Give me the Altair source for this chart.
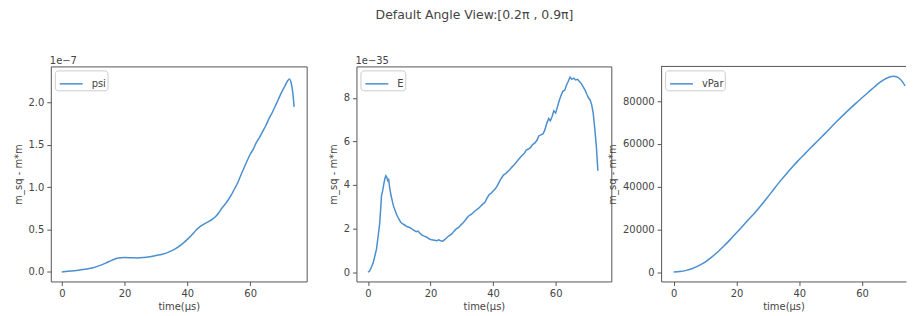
import altair as alt
import pandas as pd

# ---------------- data ----------------
chart_title = "Default Angle View:[0.2π , 0.9π]"
x_title = "time(µs)"
y_title = "m_sq - m*m"
x_ticks = [0, 20, 40, 60]

# psi, in units of 1e-7
psi_t = [0, 2, 4, 6, 8, 10, 12, 14, 16, 18, 20, 22, 24, 26, 28, 30, 32, 34, 36, 38,
         40, 42, 43, 44, 45, 46, 47, 48, 49, 50, 51, 52, 53, 54, 55, 56, 57, 58, 59,
         60, 61, 62, 63, 64, 65, 66, 67, 68, 69, 70, 71, 72, 72.5, 73, 73.5, 74]
psi_v = [0.0, 0.01, 0.015, 0.025, 0.035, 0.05, 0.075, 0.105, 0.14, 0.165, 0.17, 0.168,
         0.165, 0.17, 0.18, 0.195, 0.21, 0.235, 0.27, 0.32, 0.385, 0.46, 0.505, 0.535,
         0.56, 0.58, 0.6, 0.625, 0.655, 0.7, 0.755, 0.8, 0.85, 0.91, 0.98, 1.05, 1.14,
         1.225, 1.31, 1.39, 1.45, 1.53, 1.59, 1.66, 1.73, 1.81, 1.88, 1.96, 2.04, 2.12,
         2.19, 2.26, 2.28, 2.24, 2.14, 1.95]
psi_ticks = [0.0, 0.5, 1.0, 1.5, 2.0]

# E, in units of 1e-35
E_t = [0, 0.5, 1.0, 1.6, 2.2, 2.7, 3.2, 3.7, 4.0, 4.3, 4.7, 5.0, 5.4, 5.7, 6.0, 6.3,
       6.6, 6.9, 7.3, 7.7, 8.1, 8.6, 9.2, 9.8, 10.4, 11.0, 11.8, 12.6, 13.3, 14.0,
       14.7, 15.4, 16.0, 16.6, 17.3, 18.0, 18.8, 19.6, 20.4, 21.2, 22.0, 22.6, 23.2,
       23.9, 24.6, 25.3, 26.0, 26.8, 27.5, 28.2, 29.0, 29.8, 30.5, 31.2, 32.0, 32.6,
       33.3, 34.0, 34.6, 35.3, 36.0, 36.7, 37.4, 38.0, 38.7, 39.4, 40.0, 40.7, 41.4,
       42.0, 42.7, 43.3, 44.0, 44.7, 45.3, 46.0, 46.6, 47.3, 48.0, 48.6, 49.3, 50.0,
       50.6, 51.3, 52.0, 52.6, 53.3, 54.0, 54.6, 55.3, 56.0, 56.6, 57.2, 57.8, 58.3,
       58.9, 59.4, 60.0, 60.5, 61.1, 61.7, 62.3, 62.9, 63.5, 64.0, 64.6, 65.2, 65.8,
       66.4, 67.0, 67.6, 68.2, 68.8, 69.4, 70.0, 70.5, 71.0, 71.5, 72.0, 72.5, 73.0, 73.5]
E_v = [0.0, 0.05, 0.2, 0.4, 0.75, 1.05, 1.6, 2.2, 2.8, 3.5, 3.75, 4.0, 4.3, 4.42, 4.35,
       4.2, 4.25, 3.9, 3.55, 3.3, 3.05, 2.85, 2.62, 2.45, 2.3, 2.22, 2.15, 2.08, 2.05,
       1.98, 1.92, 1.85, 1.88, 1.78, 1.7, 1.65, 1.6, 1.52, 1.48, 1.46, 1.44, 1.48, 1.44,
       1.42, 1.5, 1.6, 1.67, 1.75, 1.88, 1.98, 2.05, 2.18, 2.28, 2.4, 2.55, 2.62, 2.68,
       2.78, 2.85, 2.92, 3.02, 3.12, 3.2, 3.38, 3.55, 3.62, 3.72, 3.82, 3.98, 4.15, 4.32,
       4.45, 4.52, 4.62, 4.7, 4.82, 4.9, 5.02, 5.15, 5.25, 5.36, 5.45, 5.6, 5.65, 5.72,
       5.85, 5.92, 6.05, 6.25, 6.3, 6.35, 6.55, 6.85, 7.05, 6.95, 7.15, 7.4, 7.3, 7.55,
       7.85, 8.1, 8.3, 8.35, 8.6, 8.75, 8.95, 8.85, 8.9, 8.82, 8.85, 8.75, 8.65, 8.5,
       8.35, 8.15, 8.0, 7.9, 7.7, 7.3, 6.6, 5.8, 4.65]
E_ticks = [0, 2, 4, 6, 8]

# vPar
vpar_t = [0, 2, 4, 6, 8, 10, 12, 14, 16, 18, 20, 22, 24, 26, 28, 30, 32, 34, 36, 38, 40,
          42, 44, 46, 48, 50, 52, 54, 56, 58, 60, 62, 64, 66, 68, 69, 70, 71, 72, 73, 73.7]
vpar_v = [0, 250, 800, 1700, 3000, 4700, 6900, 9400, 12200, 15200, 18400, 21600, 24800,
          28000, 31500, 35200, 39000, 42700, 46200, 49600, 52700, 55700, 58700, 61600,
          64600, 67600, 70600, 73500, 76300, 79000, 81600, 84200, 86800, 89200, 90900,
          91500, 91700, 91500, 90500, 88800, 87200]
vpar_ticks = [0, 20000, 40000, 60000, 80000]

# ---------------- style ----------------
FONT = "DejaVu Sans"
LINE = "#4b8fcf"
TEXT = "#444444"
FRAME = "#555555"
H = 216


def panel(t, v, name, xdom, ydom, yticks, yfmt, width, offset_text=None,
          interp="linear", own_frame=False):
    df = pd.DataFrame({"t": t, "v": v, "series": [name] * len(t)})
    xaxis = alt.Axis(values=x_ticks, title=x_title, labelFlush=False,
                     domain=own_frame, domainColor=FRAME)
    yaxis = alt.Axis(values=yticks, format=yfmt, title=y_title,
                     domain=own_frame, domainColor=FRAME)
    line = alt.Chart(df).mark_line(strokeWidth=1.5, interpolate=interp).encode(
        x=alt.X("t:Q", scale=alt.Scale(domain=xdom, nice=False, zero=False), axis=xaxis),
        y=alt.Y("v:Q", scale=alt.Scale(domain=ydom, nice=False, zero=False), axis=yaxis),
        color=alt.Color(
            "series:N",
            scale=alt.Scale(range=[LINE]),
            legend=alt.Legend(
                title=None, orient="top-left", offset=4,
                symbolType="stroke", symbolSize=529, symbolStrokeWidth=1.5,
                labelFont=FONT, labelFontSize=10, labelColor=TEXT, labelOffset=8,
                fillColor="white", strokeColor="#cccccc", padding=1, symbolOffset=3,
                cornerRadius=3,
            ),
        ),
    )
    layers = [line]
    if offset_text is not None:
        lab = alt.Chart(pd.DataFrame({"lab": [offset_text]})).mark_text(
            font=FONT, fontSize=10, color=TEXT, align="left", baseline="alphabetic"
        ).encode(text="lab:N", x=alt.value(-1), y=alt.value(-2))
        layers.append(lab)
    if own_frame:
        top = alt.Chart(pd.DataFrame({"k": [0]})).mark_rule(
            color=FRAME, strokeWidth=1
        ).encode(x=alt.value(0), x2=alt.value(width), y=alt.value(0))
        layers.append(top)
    ch = alt.layer(*layers).properties(width=width, height=H)
    if own_frame:
        ch = ch.properties(view=alt.ViewBackground(stroke="transparent"))
    return ch


p1 = panel(psi_t, psi_v, "psi", [-3.5, 78.0], [-0.112, 2.427], psi_ticks, ".1f", 257,
           offset_text="1e\u22127", interp="monotone")
p2 = panel(E_t, E_v, "E", [-3.7, 77.8], [-0.43, 9.44], E_ticks, "d", 256,
           offset_text="1e\u221235")
p3 = panel(vpar_t, vpar_v, "vPar", [-4.0, 74.0], [-4400, 96300], vpar_ticks, "d", 246,
           interp="monotone", own_frame=True)

chart = (
    alt.hconcat(p1, p2, p3, spacing=50, bounds="flush")
    .resolve_scale(color="independent")
    .resolve_legend(color="independent")
    .properties(
        title=alt.TitleParams(chart_title, font=FONT, fontSize=12.5, fontWeight="normal",
                              color=TEXT, anchor="middle", dx=14, offset=35),
        padding={"left": 4, "top": 0, "right": 0, "bottom": 2},
    )
    .configure_view(stroke=FRAME, strokeWidth=1)
    .configure_axis(
        grid=False, labelFont=FONT, labelFontSize=10, labelColor=TEXT,
        titleFont=FONT, titleFontSize=10, titleFontWeight="normal", titleColor=TEXT,
        tickColor=FRAME, tickSize=4, labelPadding=3, titlePadding=3,
    )
    .configure_axisY(titlePadding=5)
)

chart.save("out.html", embed_options={"renderer": "svg", "actions": False})
